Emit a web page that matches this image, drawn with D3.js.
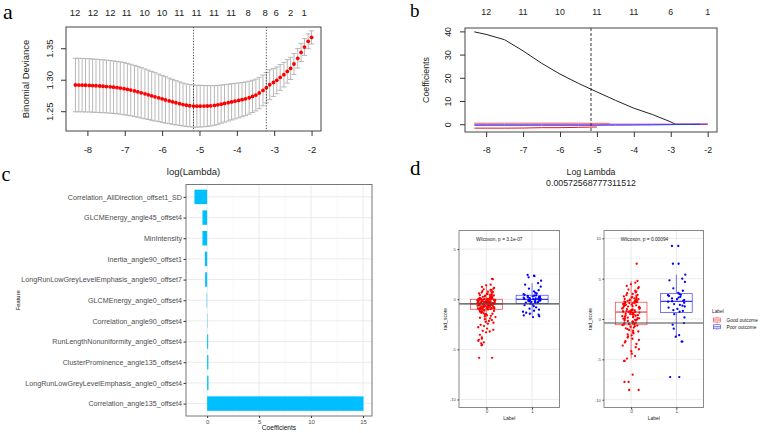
<!DOCTYPE html>
<html><head><meta charset="utf-8">
<script src="https://cdn.jsdelivr.net/npm/d3@7"></script>
<style>body{margin:0;background:#fff}</style>
</head><body>
<svg id="c" width="760" height="433"></svg>
<script>
// ---------------- DATA ----------------
// Panel a: cross-validation curve
const aLogLambda = [-8.32,-8.23,-8.14,-8.05,-7.95,-7.86,-7.77,-7.67,-7.58,-7.49,-7.39,-7.30,-7.21,-7.12,-7.02,-6.93,-6.84,-6.74,-6.65,-6.56,-6.46,-6.37,-6.28,-6.19,-6.09,-6.00,-5.91,-5.81,-5.72,-5.63,-5.53,-5.44,-5.35,-5.26,-5.16,-5.07,-4.98,-4.88,-4.79,-4.70,-4.60,-4.51,-4.42,-4.33,-4.23,-4.14,-4.05,-3.95,-3.86,-3.77,-3.67,-3.58,-3.49,-3.40,-3.30,-3.21,-3.12,-3.02,-2.93,-2.84,-2.74,-2.65,-2.56,-2.47,-2.37,-2.28,-2.19,-2.09,-2.00];
const aDeviance = [1.2916,1.2915,1.2914,1.2912,1.2910,1.2907,1.2904,1.2900,1.2896,1.2892,1.2887,1.2881,1.2875,1.2868,1.2858,1.2848,1.2836,1.2822,1.2808,1.2792,1.2776,1.2760,1.2744,1.2728,1.2712,1.2696,1.2680,1.2664,1.2649,1.2634,1.2620,1.2606,1.2595,1.2587,1.2582,1.2580,1.2580,1.2581,1.2583,1.2586,1.2592,1.2601,1.2612,1.2624,1.2636,1.2648,1.2660,1.2672,1.2684,1.2697,1.2714,1.2735,1.2757,1.2789,1.2830,1.2873,1.2920,1.2957,1.2990,1.3037,1.3080,1.3132,1.3180,1.3250,1.3340,1.3434,1.3519,1.3610,1.3671];
const aSE = [.0425,.0425,.0424,.0424,.0423,.0423,.0422,.0421,.0420,.0419,.0418,.0417,.0416,.0415,.0414,.0412,.0409,.0406,.0403,.0400,.0396,.0392,.0388,.0384,.0378,.0373,.0368,.0362,.0357,.0351,.0346,.0341,.0337,.0335,.0334,.0333,.0331,.0328,.0325,.0320,.0315,.0309,.0303,.0297,.0292,.0287,.0282,.0277,.0272,.0267,.0262,.0257,.0253,.0249,.0245,.0241,.0237,.0222,.0213,.0204,.0195,.0186,.0176,.0166,.0155,.0144,.0133,.0118,.0105];
const aTopPos = [-8.33,-7.85,-7.39,-6.95,-6.47,-6.0,-5.54,-5.08,-4.61,-4.15,-3.70,-3.24,-2.95,-2.56,-2.2];
const aTopLab = ["12","12","12","11","10","10","11","11","11","11","8","8","6","2","1"];
const aXTicks = [-8,-7,-6,-5,-4,-3,-2];
const aYTicks = [1.25,1.30,1.35];
const aLambdaMin = -5.16, aLambda1se = -3.21;

// Panel b: coefficient paths
const bLogLambda = [-8.32,-8.0,-7.5,-7.0,-6.5,-6.0,-5.5,-5.0,-4.65,-4.5,-4.0,-3.5,-3.0,-2.88,-2.5,-2.2,-2.0];
const bBlack   = [39.8,38.7,36.4,31.6,26.3,21.6,17.6,13.9,11.4,10.3,6.9,4.2,1.0,0,0,0,0];
const bRed     = [-1.7,-1.7,-1.7,-1.65,-1.5,-1.5,-1.35,-1.2,null,null,null,null,null,null,null,null,null];
const bSalmon  = [0.45,0.45,0.45,0.45,0.45,0.45,0.45,0.4,0.35,null,null,null,null,null,null,null,null];
const bBlue    = [-0.45,-0.45,-0.45,-0.45,-0.45,-0.45,-0.45,-0.45,-0.4,-0.4,-0.35,-0.3,-0.2,-0.15,-0.1,-0.05,null];
const bMagenta = [0,0,0,0,0,0,0,0,0,0,0,0,0,0,0,0,0];
const bTopPos = [-8,-7,-6,-5,-4,-3,-2];
const bTopLab = ["12","11","10","11","11","6","1"];
const bXTicks = [-8,-7,-6,-5,-4,-3,-2];
const bYTicks = [0,10,20,30,40];
const bLambdaMin = -5.16;
const bLambdaValue = "0.00572568777311512";

// Panel c: selected features
const cFeatures = ["Correlation_AllDirection_offset1_SD","GLCMEnergy_angle45_offset4","MinIntensity","Inertia_angle90_offset1","LongRunLowGreyLevelEmphasis_angle90_offset7","GLCMEnergy_angle0_offset4","Correlation_angle90_offset4","RunLengthNonuniformity_angle0_offset4","ClusterProminence_angle135_offset4","LongRunLowGreyLevelEmphasis_angle0_offset4","Correlation_angle135_offset4"];
const cCoef = [-1.22,-0.45,-0.45,-0.22,-0.19,-0.04,0.03,0.1,0.12,0.13,15.05];
const cXTicks = [0,5,10,15];

// Panel d: rad_score by label
const dCats = ["0","1"];
const dLegend = ["Good outcome","Poor outcome"];
const dLeft0 = [2.02,1.98,1.45,1.38,1.22,1.12,1.05,0.98,0.93,0.87,0.84,0.79,0.75,0.71,0.66,0.63,0.58,0.55,0.51,0.47,0.44,0.41,0.38,0.36,0.33,0.29,0.27,0.24,0.22,0.19,0.17,0.15,0.13,0.11,0.09,0.08,0.06,0.05,0.04,0.03,0.02,0.01,0.01,0.0,0.0,
 -0.01,-0.02,-0.03,-0.04,-0.05,-0.06,-0.08,-0.09,-0.1,-0.11,-0.12,-0.13,-0.15,-0.16,-0.17,-0.18,-0.19,-0.21,-0.22,-0.23,-0.24,-0.25,-0.26,-0.27,-0.28,-0.29,-0.3,-0.31,-0.32,-0.33,-0.34,-0.35,-0.36,-0.37,-0.38,-0.39,-0.4,-0.41,-0.42,-0.43,-0.44,-0.44,-0.45,-0.45,-0.46,
 -0.47,-0.48,-0.49,-0.5,-0.51,-0.52,-0.53,-0.55,-0.56,-0.57,-0.58,-0.6,-0.61,-0.62,-0.63,-0.65,-0.66,-0.67,-0.69,-0.7,-0.71,-0.72,-0.74,-0.75,-0.76,-0.78,-0.79,-0.8,-0.81,-0.83,-0.84,-0.85,-0.87,-0.88,-0.89,-0.9,-0.91,-0.92,-0.94,-0.95,-0.96,-0.97,-0.98,-0.99,-1.0,
 -1.03,-1.06,-1.1,-1.13,-1.17,-1.2,-1.24,-1.28,-1.32,-1.36,-1.41,-1.45,-1.5,-1.55,-1.6,-1.66,-1.72,-1.78,-1.85,-1.92,-2.0,-2.08,-2.17,-2.26,-2.35,-2.45,-2.56,-2.68,-2.8,-2.93,-3.05,-3.15,-3.22,-3.3,-3.55,-3.8,-3.95,-4.05,-4.15,-4.3,-4.4,-4.55,-4.6,-5.85,-5.85];
const dLeft1 = [2.42,2.35,2.3,2.18,1.85,1.6,1.45,1.25,1.05,0.9,0.78,0.65,0.57,0.5,0.44,
 0.38,0.35,0.32,0.28,0.25,0.22,0.2,0.16,0.13,0.1,0.08,0.06,0.04,0.02,0.0,
 -0.02,-0.05,-0.07,-0.1,-0.12,-0.15,-0.18,-0.2,-0.23,-0.26,-0.29,-0.32,-0.34,-0.37,-0.4,
 -0.45,-0.52,-0.6,-0.7,-0.82,-0.95,-1.05,-1.15,-1.25,-1.35,-1.45,-1.55,-1.62,-1.7,-1.78];
const dRight0 = [6.85,4.72,4.5,4.3,4.1,3.95,3.8,3.65,3.5,3.4,3.3,3.2,3.1,3.0,2.95,2.85,2.8,2.72,2.65,2.6,2.55,2.48,2.45,2.4,2.36,2.32,2.28,2.25,2.22,2.2,2.18,2.16,2.14,2.12,2.1,
 2.08,2.05,2.0,1.97,1.93,1.9,1.86,1.82,1.78,1.74,1.7,1.66,1.62,1.58,1.54,1.5,1.46,1.42,1.38,1.34,1.3,1.26,1.22,1.18,1.14,1.1,1.06,1.03,1.0,0.98,0.95,0.93,0.91,0.89,0.87,
 0.85,0.8,0.76,0.72,0.67,0.62,0.58,0.53,0.48,0.44,0.4,0.35,0.3,0.26,0.22,0.17,0.12,0.08,0.04,0.0,-0.05,-0.1,-0.15,-0.2,-0.25,-0.3,-0.35,-0.4,-0.45,-0.5,-0.54,-0.58,-0.62,-0.66,-0.7,
 -0.75,-0.82,-0.9,-0.98,-1.06,-1.15,-1.25,-1.35,-1.45,-1.55,-1.66,-1.78,-1.9,-2.02,-2.15,-2.3,-2.45,-2.6,-2.75,-2.9,-3.1,-3.3,-3.5,-3.75,-4.0,-4.3,-4.6,-4.9,-5.2,-5.2,-6.9,-7.8,-7.8,-8.8,-8.8];
const dRight1 = [9.05,9.05,6.85,6.85,5.5,5.0,4.8,4.6,3.8,3.5,3.25,
 3.1,3.0,2.95,2.85,2.75,2.65,2.55,2.45,2.35,2.28,2.2,
 2.15,2.0,1.85,1.75,1.65,1.55,1.4,1.25,1.1,1.0,0.9,
 0.6,0.2,-0.5,-0.7,-1.2,-2.0,-2.2,-2.8,-2.8,-7.2,-7.2];
const dCutLeft = -0.47, dCutRight = -0.5;
const dPLeft = "Wilcoxon, p = 3.1e-07", dPRight = "Wilcoxon, p = 0.00094";
const dYTicksLeft = [-10,-5,0,5], dYTicksRight = [-10,-5,0,5,10];

// ---------------- DRAWING ----------------
const SANS = "'Liberation Sans', Arial, Helvetica, sans-serif";
const SERIF = "'Liberation Serif', 'Times New Roman', serif";
const svg = d3.select("#c");
svg.append("rect").attr("width",760).attr("height",433).attr("fill","#fff");
const fmt = d => String(d);

function text(g, x, y, s, o={}) {
  const t = g.append("text").attr("x",x).attr("y",y).text(s)
    .attr("font-family", o.family || SANS).attr("font-size", o.size || 9.5)
    .attr("fill", o.fill || "#222").attr("text-anchor", o.anchor || "middle");
  if (o.rotate) t.attr("transform", `rotate(-90,${x},${y})`);
  if (o.dy) t.attr("dy", o.dy);
  return t;
}
function styleAxis(ax, size, fill) {
  ax.attr("font-family", SANS).attr("font-size", size);
  ax.select(".domain").remove();
  ax.selectAll("line").attr("stroke", "#333");
  ax.selectAll("text").attr("fill", fill);
}

// panel letters
text(svg, 3, 19, "a", {family:SERIF, size:22, anchor:"start", fill:"#000"});
text(svg, 410, 17.3, "b", {family:SERIF, size:19, anchor:"start", fill:"#000"});
text(svg, 1.5, 180.7, "c", {family:SERIF, size:20, anchor:"start", fill:"#000"});
text(svg, 410, 175, "d", {family:SERIF, size:21, anchor:"start", fill:"#000"});

// ---------- Panel a ----------
(function(){
  const L=66, R=321, T=27, B=131;
  const ext = d3.extent(aLogLambda), px = (ext[1]-ext[0])*0.04;
  const x = d3.scaleLinear().domain([ext[0]-px, ext[1]+px]).range([L,R]);
  const highs = aDeviance.map((d,i)=>d+aSE[i]), lows = aDeviance.map((d,i)=>d-aSE[i]);
  const lo = d3.min(lows), hi = d3.max(highs), py = (hi-lo)*0.04;
  const y = d3.scaleLinear().domain([lo-py, hi+py]).range([B,T]);
  const g = svg.append("g");
  const eb = g.append("g").attr("stroke","#b0b0b0").attr("stroke-width",0.9);
  aLogLambda.forEach((l,i)=>{
    const cx = x(l);
    eb.append("line").attr("x1",cx).attr("x2",cx).attr("y1",y(highs[i])).attr("y2",y(lows[i]));
    eb.append("line").attr("x1",cx-2.6).attr("x2",cx+2.6).attr("y1",y(highs[i])).attr("y2",y(highs[i]));
    eb.append("line").attr("x1",cx-2.6).attr("x2",cx+2.6).attr("y1",y(lows[i])).attr("y2",y(lows[i]));
  });
  g.append("g").selectAll("circle").data(aDeviance).join("circle")
    .attr("cx",(d,i)=>x(aLogLambda[i])).attr("cy",d=>y(d)).attr("r",1.9).attr("fill","#f00");
  [aLambdaMin, aLambda1se].forEach(v=>{
    g.append("line").attr("x1",x(v)).attr("x2",x(v)).attr("y1",T).attr("y2",B)
      .attr("stroke","#222").attr("stroke-width",0.8).attr("stroke-dasharray","1.2,1.6");
  });
  g.append("rect").attr("x",L).attr("y",T).attr("width",R-L).attr("height",B-T)
    .attr("fill","none").attr("stroke","#444").attr("stroke-width",1);
  const xa = g.append("g").attr("transform",`translate(0,${B})`)
    .call(d3.axisBottom(x).tickValues(aXTicks).tickSize(5).tickPadding(10.5).tickFormat(fmt));
  styleAxis(xa, 9.5, "#222");
  const ya = g.append("g").attr("transform",`translate(${L},0)`)
    .call(d3.axisLeft(y).tickValues(aYTicks).tickSize(5).tickFormat(d=>d.toFixed(2)));
  styleAxis(ya, 9.5, "#222");
  ya.selectAll("text").attr("x",null).attr("dy","0.35em").attr("text-anchor","middle")
    .attr("transform","translate(-16,0) rotate(-90)");
  aTopPos.forEach((p,i)=> text(g, x(p), 15.5, aTopLab[i]));
  text(g, 29, (T+B)/2, "Binomial Deviance", {rotate:true});
  text(g, (L+R)/2, 175, "log(Lambda)");
})();

// ---------- Panel b ----------
(function(){
  const L=465, R=717, T=28, B=132;
  const ext = d3.extent(bLogLambda), px = (ext[1]-ext[0])*0.04;
  const x = d3.scaleLinear().domain([ext[0]-px, ext[1]+px]).range([L,R]);
  const all = [].concat(bBlack,bRed,bSalmon,bBlue,bMagenta).filter(v=>v!==null);
  const lo = d3.min(all), hi = d3.max(all), py = (hi-lo)*0.04;
  const y = d3.scaleLinear().domain([lo-py, hi+py]).range([B,T]);
  const g = svg.append("g");
  const series = [[bBlack,"#222"],[bMagenta,"#d020d0"],[bBlue,"#2040e8"],[bSalmon,"#f07070"],[bRed,"#e8141e"]];
  series.forEach(([vals,col])=>{
    const line = d3.line().defined(d=>d[1]!==null).x(d=>x(d[0])).y(d=>y(d[1]));
    g.append("path").datum(bLogLambda.map((l,i)=>[l,vals[i]])).attr("d",line)
      .attr("fill","none").attr("stroke",col).attr("stroke-width",1);
  });
  g.append("line").attr("x1",x(bLambdaMin)).attr("x2",x(bLambdaMin)).attr("y1",T).attr("y2",B)
    .attr("stroke","#222").attr("stroke-width",0.9).attr("stroke-dasharray","3,2");
  g.append("rect").attr("x",L).attr("y",T).attr("width",R-L).attr("height",B-T)
    .attr("fill","none").attr("stroke","#444").attr("stroke-width",1);
  const xa = g.append("g").attr("transform",`translate(0,${B})`)
    .call(d3.axisBottom(x).tickValues(bXTicks).tickSize(5).tickPadding(9.5).tickFormat(fmt));
  styleAxis(xa, 8.8, "#222");
  const ya = g.append("g").attr("transform",`translate(${L},0)`)
    .call(d3.axisLeft(y).tickValues(bYTicks).tickSize(5).tickFormat(fmt));
  styleAxis(ya, 8.8, "#222");
  ya.selectAll("text").attr("x",null).attr("dy","0.35em").attr("text-anchor","middle")
    .attr("transform","translate(-17,0) rotate(-90)");
  bTopPos.forEach((p,i)=> text(g, x(p), 15, bTopLab[i], {size:8.8}));
  text(g, 429, (T+B)/2, "Coefficients", {rotate:true, size:8.8});
  text(g, 591, 174.6, "Log Lambda", {size:8.8});
  text(g, 591, 186, bLambdaValue, {size:8.8});
})();

// ---------- Panel c ----------
(function(){
  const L=186, R=372, T=184.5, B=416;
  const ext = d3.extent(cCoef.concat([0])), px = (ext[1]-ext[0])*0.05;
  const x = d3.scaleLinear().domain([ext[0]-px, ext[1]+px]).range([L,R]);
  const y = d3.scalePoint().domain(cFeatures).range([T,B]).padding(0.6);
  const bw = y.step()*0.7;
  const g = svg.append("g");
  const minors = [-2.5,2.5,7.5,12.5].filter(v=>x(v)>L && x(v)<R);
  minors.forEach(v=> g.append("line").attr("x1",x(v)).attr("x2",x(v)).attr("y1",T).attr("y2",B).attr("stroke","#f3f3f3").attr("stroke-width",0.5));
  cXTicks.forEach(v=> g.append("line").attr("x1",x(v)).attr("x2",x(v)).attr("y1",T).attr("y2",B).attr("stroke","#e8e8e8").attr("stroke-width",0.9));
  cFeatures.forEach(f=> g.append("line").attr("x1",L).attr("x2",R).attr("y1",y(f)).attr("y2",y(f)).attr("stroke","#e8e8e8").attr("stroke-width",0.9));
  g.selectAll("rect.bar").data(cCoef).join("rect").attr("class","bar")
    .attr("x",d=>x(Math.min(0,d))).attr("width",d=>Math.abs(x(d)-x(0)))
    .attr("y",(d,i)=>y(cFeatures[i])-bw/2).attr("height",bw).attr("fill","#00BFFF");
  g.append("rect").attr("x",L).attr("y",T).attr("width",R-L).attr("height",B-T)
    .attr("fill","none").attr("stroke","#777").attr("stroke-width",1);
  const xa = g.append("g").attr("transform",`translate(0,${B})`)
    .call(d3.axisBottom(x).tickValues(cXTicks).tickSize(2).tickPadding(1.5).tickFormat(fmt));
  styleAxis(xa, 6, "#4d4d4d");
  const ya = g.append("g").attr("transform",`translate(${L},0)`)
    .call(d3.axisLeft(y).tickSize(2.5).tickPadding(1.5));
  styleAxis(ya, 7.15, "#4d4d4d");
  text(g, (L+R)/2, 430, "Coefficients", {size:6.6, fill:"#111"});
  text(g, 20, (T+B)/2, "Feature", {size:5.8, rotate:true, fill:"#111"});
})();

// ---------- Panel d ----------
function jit(i){ const s = Math.sin(i*78.233+1.7)*43758.5453; return (s-Math.floor(s))-0.5; }
function boxPanel(L,R,T,B,dom,ticks,v0,v1,cut,plab,plx){
  const g = svg.append("g");
  const x = d3.scalePoint().domain(dCats).range([L,R]).padding(0.6);
  const y = d3.scaleLinear().domain(dom).range([B,T]);
  const step = x.step();
  const minors = [];
  for (let i=0;i<ticks.length;i++){ [ticks[i]-2.5, ticks[i]+2.5].forEach(m=>{ if(y(m)>T && y(m)<B && !minors.includes(m) && !ticks.includes(m)) minors.push(m); }); }
  minors.forEach(m=> g.append("line").attr("x1",L).attr("x2",R).attr("y1",y(m)).attr("y2",y(m)).attr("stroke","#f3f3f3").attr("stroke-width",0.5));
  ticks.forEach(t=> g.append("line").attr("x1",L).attr("x2",R).attr("y1",y(t)).attr("y2",y(t)).attr("stroke","#e6e6e6").attr("stroke-width",0.8));
  dCats.forEach(c=> g.append("line").attr("x1",x(c)).attr("x2",x(c)).attr("y1",T).attr("y2",B).attr("stroke","#e6e6e6").attr("stroke-width",0.8));
  const groups = [[v0,"#f03c3c","#ff0000"],[v1,"#3c3cf0","#0000ff"]];
  groups.forEach(([vals,bc,pc],gi)=>{
    const s = vals.slice().sort(d3.ascending);
    const q1 = d3.quantile(s,0.25), med = d3.quantile(s,0.5), q3 = d3.quantile(s,0.75), iqr = q3-q1;
    const wHi = d3.max(s.filter(v=>v<=q3+1.5*iqr)), wLo = d3.min(s.filter(v=>v>=q1-1.5*iqr));
    const cx = x(dCats[gi]), hw = step*0.35;
    g.append("line").attr("x1",cx).attr("x2",cx).attr("y1",y(q3)).attr("y2",y(wHi)).attr("stroke",bc).attr("stroke-width",0.7);
    g.append("line").attr("x1",cx).attr("x2",cx).attr("y1",y(q1)).attr("y2",y(wLo)).attr("stroke",bc).attr("stroke-width",0.7);
    g.append("rect").attr("x",cx-hw).attr("y",y(q3)).attr("width",2*hw).attr("height",y(q1)-y(q3))
      .attr("fill","#fff").attr("stroke",bc).attr("stroke-width",0.7);
    g.append("line").attr("x1",cx-hw).attr("x2",cx+hw).attr("y1",y(med)).attr("y2",y(med)).attr("stroke",bc).attr("stroke-width",1.2);
    g.append("g").selectAll("circle").data(vals).join("circle")
      .attr("cx",(d,i)=>cx + jit(i+gi*500)*0.4*step).attr("cy",d=>y(d)).attr("r",1.15).attr("fill",pc);
  });
  g.append("line").attr("x1",L).attr("x2",R).attr("y1",y(cut)).attr("y2",y(cut)).attr("stroke","#4a4a4a").attr("stroke-width",1.1);
  g.append("rect").attr("x",L).attr("y",T).attr("width",R-L).attr("height",B-T)
    .attr("fill","none").attr("stroke","#8a8a8a").attr("stroke-width",1);
  const xa = g.append("g").attr("transform",`translate(0,${B})`)
    .call(d3.axisBottom(x).tickSize(1.5).tickPadding(1));
  styleAxis(xa, 4.5, "#4d4d4d");
  const ya = g.append("g").attr("transform",`translate(${L},0)`)
    .call(d3.axisLeft(y).tickValues(ticks).tickSize(1.5).tickPadding(1.5).tickFormat(fmt));
  styleAxis(ya, 4.3, "#4d4d4d");
  text(g, (L+R)/2, 420, "Label", {size:5, fill:"#222"});
  text(g, L-12.5, (T+B)/2, "rad_score", {size:5, rotate:true, fill:"#222"});
  text(g, plx, 241, plab, {size:4.8, anchor:"start", fill:"#222"});
}
boxPanel(459, 559.5, 230.5, 407.5, [-10.8, 6.85], dYTicksLeft, dLeft0, dLeft1, dCutLeft, dPLeft, 476);
boxPanel(604, 703.5, 230.5, 407.5, [-10.97, 10.97], dYTicksRight, dRight0, dRight1, dCutRight, dPRight, 620.7);

// legend
(function(){
  const g = svg.append("g");
  text(g, 712, 312.5, "Label", {size:4.8, anchor:"start", fill:"#222"});
  [["#f03c3c",320],["#3c3cf0",326.8]].forEach(([c,yy],i)=>{
    g.append("line").attr("x1",717).attr("x2",717).attr("y1",yy-3.2).attr("y2",yy+3.2).attr("stroke",c).attr("stroke-width",0.6);
    g.append("rect").attr("x",713.5).attr("y",yy-2).attr("width",7).attr("height",4).attr("fill","#fff").attr("stroke",c).attr("stroke-width",0.6);
    g.append("line").attr("x1",713.5).attr("x2",720.5).attr("y1",yy).attr("y2",yy).attr("stroke",c).attr("stroke-width",0.8);
    text(g, 726.5, yy+1.7, dLegend[i], {size:4.8, anchor:"start", fill:"#222"});
  });
})();
</script>
</body></html>
